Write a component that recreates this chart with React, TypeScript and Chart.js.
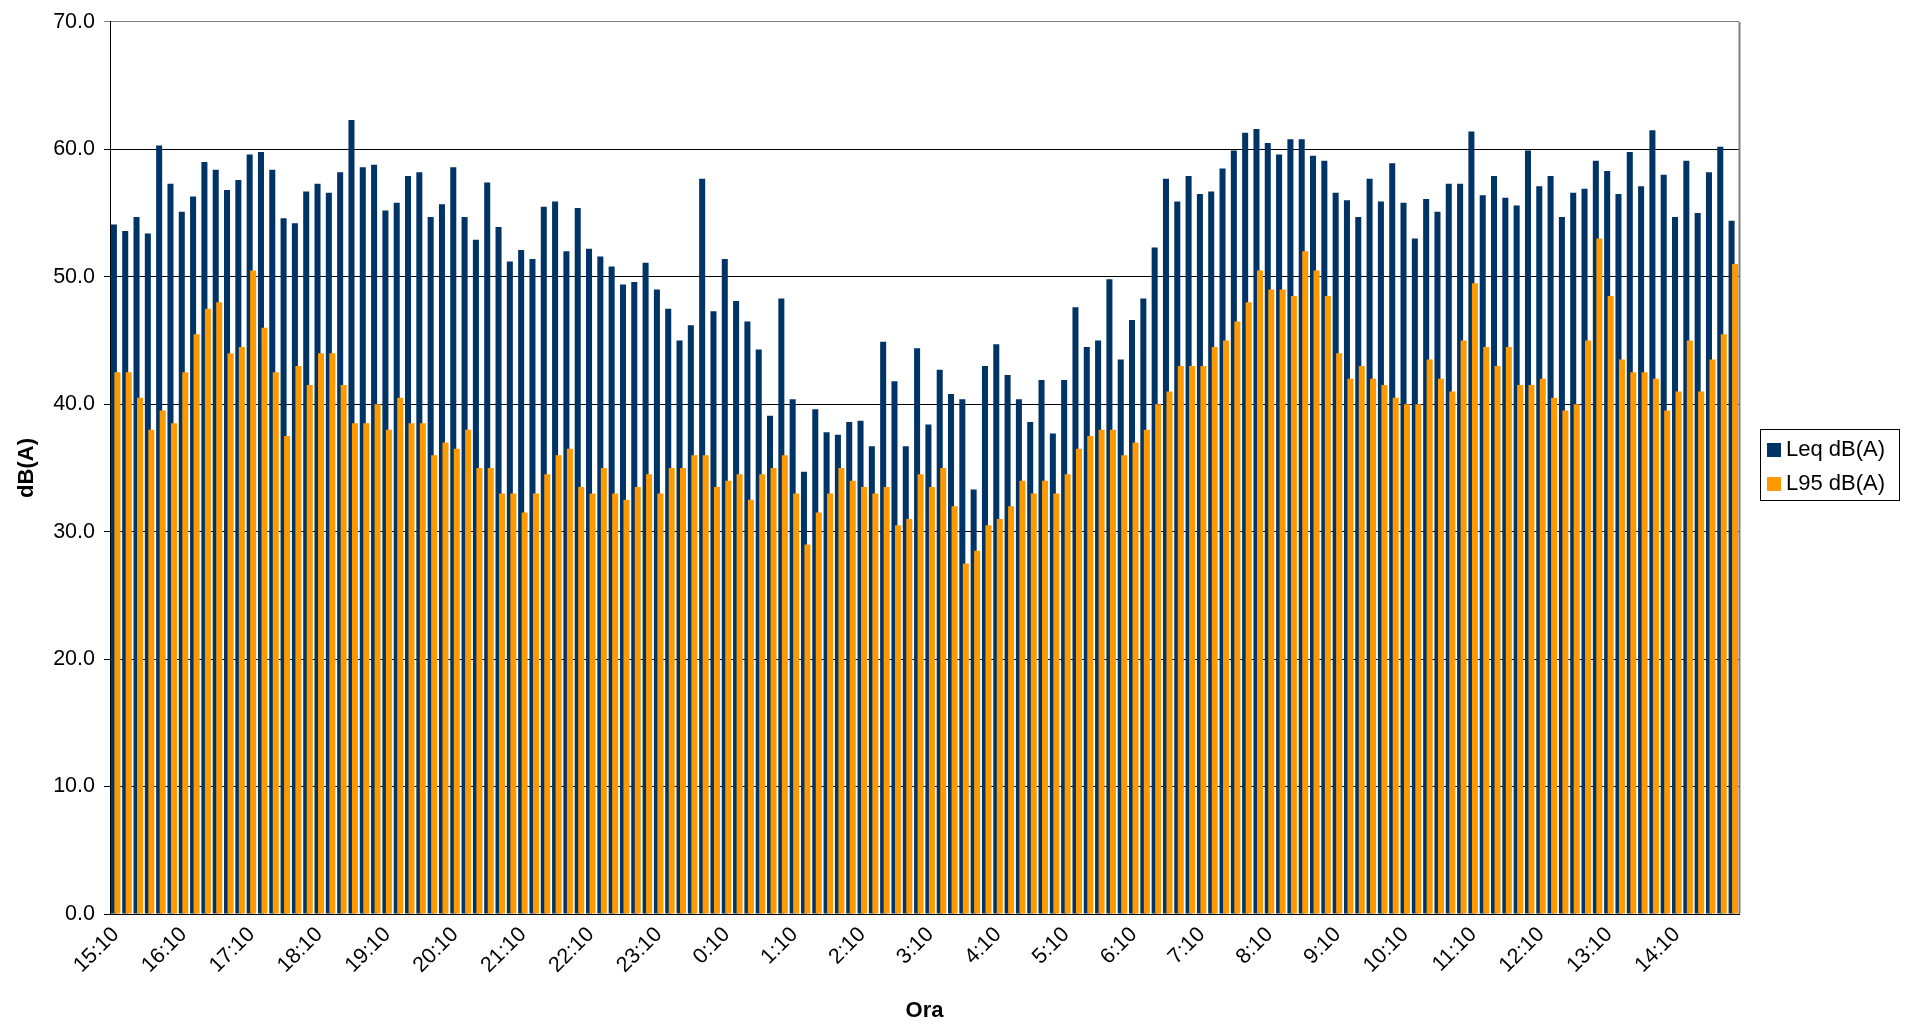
import React, { useEffect, useRef } from "react";
import { Chart, registerables } from "chart.js";

Chart.register(...registerables);

// 10-minute intervals starting 15:10, 144 readings (24 h)
const START_HOUR = 15;
const START_MINUTE = 10;
const STEP_MINUTES = 10;
const COUNT = 144;
const categories: string[] = Array.from({ length: COUNT }, (_, i) => {
  const m = (START_HOUR * 60 + START_MINUTE + i * STEP_MINUTES) % 1440;
  return `${Math.floor(m / 60)}:${String(m % 60).padStart(2, "0")}`;
});

const leqValues: number[] = [
  54.1, 53.6, 54.7, 53.4, 60.3, 57.3, 55.1, 56.3, 59.0, 58.4, 56.8, 57.6,
  59.6, 59.8, 58.4, 54.6, 54.2, 56.7, 57.3, 56.6, 58.2, 62.3, 58.6, 58.8,
  55.2, 55.8, 57.9, 58.2, 54.7, 55.7, 58.6, 54.7, 52.9, 57.4, 53.9, 51.2,
  52.1, 51.4, 55.5, 55.9, 52.0, 55.4, 52.2, 51.6, 50.8, 49.4, 49.6, 51.1,
  49.0, 47.5, 45.0, 46.2, 57.7, 47.3, 51.4, 48.1, 46.5, 44.3, 39.1, 48.3,
  40.4, 34.7, 39.6, 37.8, 37.6, 38.6, 38.7, 36.7, 44.9, 41.8, 36.7, 44.4,
  38.4, 42.7, 40.8, 40.4, 33.3, 43.0, 44.7, 42.3, 40.4, 38.6, 41.9, 37.7,
  41.9, 47.6, 44.5, 45.0, 49.8, 43.5, 46.6, 48.3, 52.3, 57.7, 55.9, 57.9,
  56.5, 56.7, 58.5, 59.9, 61.3, 61.6, 60.5, 59.6, 60.8, 60.8, 59.5, 59.1,
  56.6, 56.0, 54.7, 57.7, 55.9, 58.9, 55.8, 53.0, 56.1, 55.1, 57.3, 57.3,
  61.4, 56.4, 57.9, 56.2, 55.6, 59.9, 57.1, 57.9, 54.7, 56.6, 56.9, 59.1,
  58.3, 56.5, 59.8, 57.1, 61.5, 58.0, 54.7, 59.1, 55.0, 58.2, 60.2, 54.4,
];

const l95Values: number[] = [
  42.5, 42.5, 40.5, 38.0, 39.5, 38.5, 42.5, 45.5, 47.5, 48.0, 44.0, 44.5,
  50.5, 46.0, 42.5, 37.5, 43.0, 41.5, 44.0, 44.0, 41.5, 38.5, 38.5, 40.0,
  38.0, 40.5, 38.5, 38.5, 36.0, 37.0, 36.5, 38.0, 35.0, 35.0, 33.0, 33.0,
  31.5, 33.0, 34.5, 36.0, 36.5, 33.5, 33.0, 35.0, 33.0, 32.5, 33.5, 34.5,
  33.0, 35.0, 35.0, 36.0, 36.0, 33.5, 34.0, 34.5, 32.5, 34.5, 35.0, 36.0,
  33.0, 29.0, 31.5, 33.0, 35.0, 34.0, 33.5, 33.0, 33.5, 30.5, 31.0, 34.5,
  33.5, 35.0, 32.0, 27.5, 28.5, 30.5, 31.0, 32.0, 34.0, 33.0, 34.0, 33.0,
  34.5, 36.5, 37.5, 38.0, 38.0, 36.0, 37.0, 38.0, 40.0, 41.0, 43.0, 43.0,
  43.0, 44.5, 45.0, 46.5, 48.0, 50.5, 49.0, 49.0, 48.5, 52.0, 50.5, 48.5,
  44.0, 42.0, 43.0, 42.0, 41.5, 40.5, 40.0, 40.0, 43.5, 42.0, 41.0, 45.0,
  49.5, 44.5, 43.0, 44.5, 41.5, 41.5, 42.0, 40.5, 39.5, 40.0, 45.0, 53.0,
  48.5, 43.5, 42.5, 42.5, 42.0, 39.5, 41.0, 45.0, 41.0, 43.5, 45.5, 51.0,
];

const seriesNames = ["Leq dB(A)", "L95 dB(A)"];
const seriesColors = ["#003366", "#FF9900"];
const yTitle = "dB(A)";
const xTitle = "Ora";
const LABEL_EVERY = 6;

const FONT = "'Liberation Sans', Arial, sans-serif";

const overlapPlugin = {
  id: "overlapOrder",
  beforeDatasetDraw(chart: any, args: any) {
    if (args.index === 1) return false;
  },
  afterDatasetDraw(chart: any, args: any) {
    if (args.index === 0) {
      const meta = chart.getDatasetMeta(1);
      const ctx = chart.ctx;
      ctx.save();
      const a = chart.chartArea;
      ctx.beginPath();
      ctx.rect(a.left, a.top, a.right - a.left, a.bottom - a.top);
      ctx.clip();
      meta.controller.draw();
      ctx.restore();
    }
  },
};

const framePlugin = {
  id: "frameAndLegend",
  afterDraw(chart: any) {
    const ctx = chart.ctx;
    const a = chart.chartArea;
    ctx.save();
    // right plot border (gray)
    ctx.strokeStyle = "#808080";
    ctx.lineWidth = 2;
    ctx.beginPath();
    ctx.moveTo(a.right + 0.5, a.top);
    ctx.lineTo(a.right + 0.5, a.bottom);
    ctx.stroke();

    // legend
    const bx = 1760.5, by = 429.5, bw = 139, bh = 71;
    ctx.fillStyle = "#ffffff";
    ctx.fillRect(bx, by, bw, bh);
    ctx.strokeStyle = "#000000";
    ctx.lineWidth = 1;
    ctx.strokeRect(bx, by, bw, bh);
    ctx.font = `22px ${FONT}`;
    ctx.textBaseline = "middle";
    ctx.textAlign = "left";
    const rows = [449, 483];
    chart.data.datasets.forEach((ds: any, i: number) => {
      const cy = rows[i];
      ctx.fillStyle = ds.backgroundColor;
      ctx.fillRect(1767, cy - 6, 14, 14);
      ctx.fillStyle = "#000000";
      ctx.fillText(ds.label, 1786, cy + 1);
    });
    ctx.restore();
  },
};

export default function App() {
  const canvasRef = useRef<HTMLCanvasElement | null>(null);

  useEffect(() => {
    if (!canvasRef.current) return;
    const chart = new Chart(canvasRef.current, {
      type: "bar",
      data: {
        labels: categories,
        datasets: [
          {
            label: seriesNames[0],
            data: leqValues,
            backgroundColor: seriesColors[0],
            borderWidth: 0,
            categoryPercentage: 0.62,
            barPercentage: 1.72,
          },
          {
            label: seriesNames[1],
            data: l95Values,
            backgroundColor: seriesColors[1],
            borderWidth: 0,
            categoryPercentage: 0.62,
            barPercentage: 1.72,
          },
        ],
      },
      options: {
        responsive: false,
        animation: false,
        devicePixelRatio: 1,
        layout: { padding: { top: 18, right: 173, bottom: 0, left: 0 } },
        plugins: {
          legend: { display: false },
          tooltip: { enabled: false },
        },
        scales: {
          x: {
            type: "category",
            offset: true,
            grid: { display: false, drawTicks: false },
            border: { display: true, color: "#000000", width: 1 },
            ticks: {
              autoSkip: false,
              minRotation: 45,
              maxRotation: 45,
              padding: 8,
              color: "#000000",
              font: { family: FONT, size: 21.5 },
              callback: (_v: any, i: number) => (i % LABEL_EVERY === 0 ? categories[i] : ""),
            },
            title: {
              display: true,
              text: xTitle,
              color: "#000000",
              font: { family: FONT, size: 22, weight: "bold" },
              padding: { top: 0, bottom: 2 },
            },
            afterFit: (scale: any) => {
              scale.height = 112;
            },
          },
          y: {
            min: 0,
            max: 70,
            ticks: {
              stepSize: 10,
              color: "#000000",
              padding: 9,
              font: { family: FONT, size: 21.5 },
              callback: (v: any) => Number(v).toFixed(1),
            },
            grid: {
              color: (c: any) => (c.tick && c.tick.value === 70 ? "#808080" : "#000000"),
              lineWidth: 1,
              drawTicks: true,
              tickLength: 6,
            },
            border: { display: true, color: "#000000", width: 1 },
            title: {
              display: true,
              text: yTitle,
              color: "#000000",
              font: { family: FONT, size: 22, weight: "bold" },
              padding: { top: 14, bottom: 0 },
            },
            afterFit: (scale: any) => {
              scale.width = 110;
            },
          },
        },
      },
      plugins: [overlapPlugin, framePlugin],
    });
    return () => chart.destroy();
  }, []);

  return (
    <div style={{ position: "fixed", left: 0, top: 0, width: 1912, height: 1026, background: "#fff" }}>
      <canvas ref={canvasRef} width={1912} height={1026} style={{ display: "block" }} />
    </div>
  );
}
